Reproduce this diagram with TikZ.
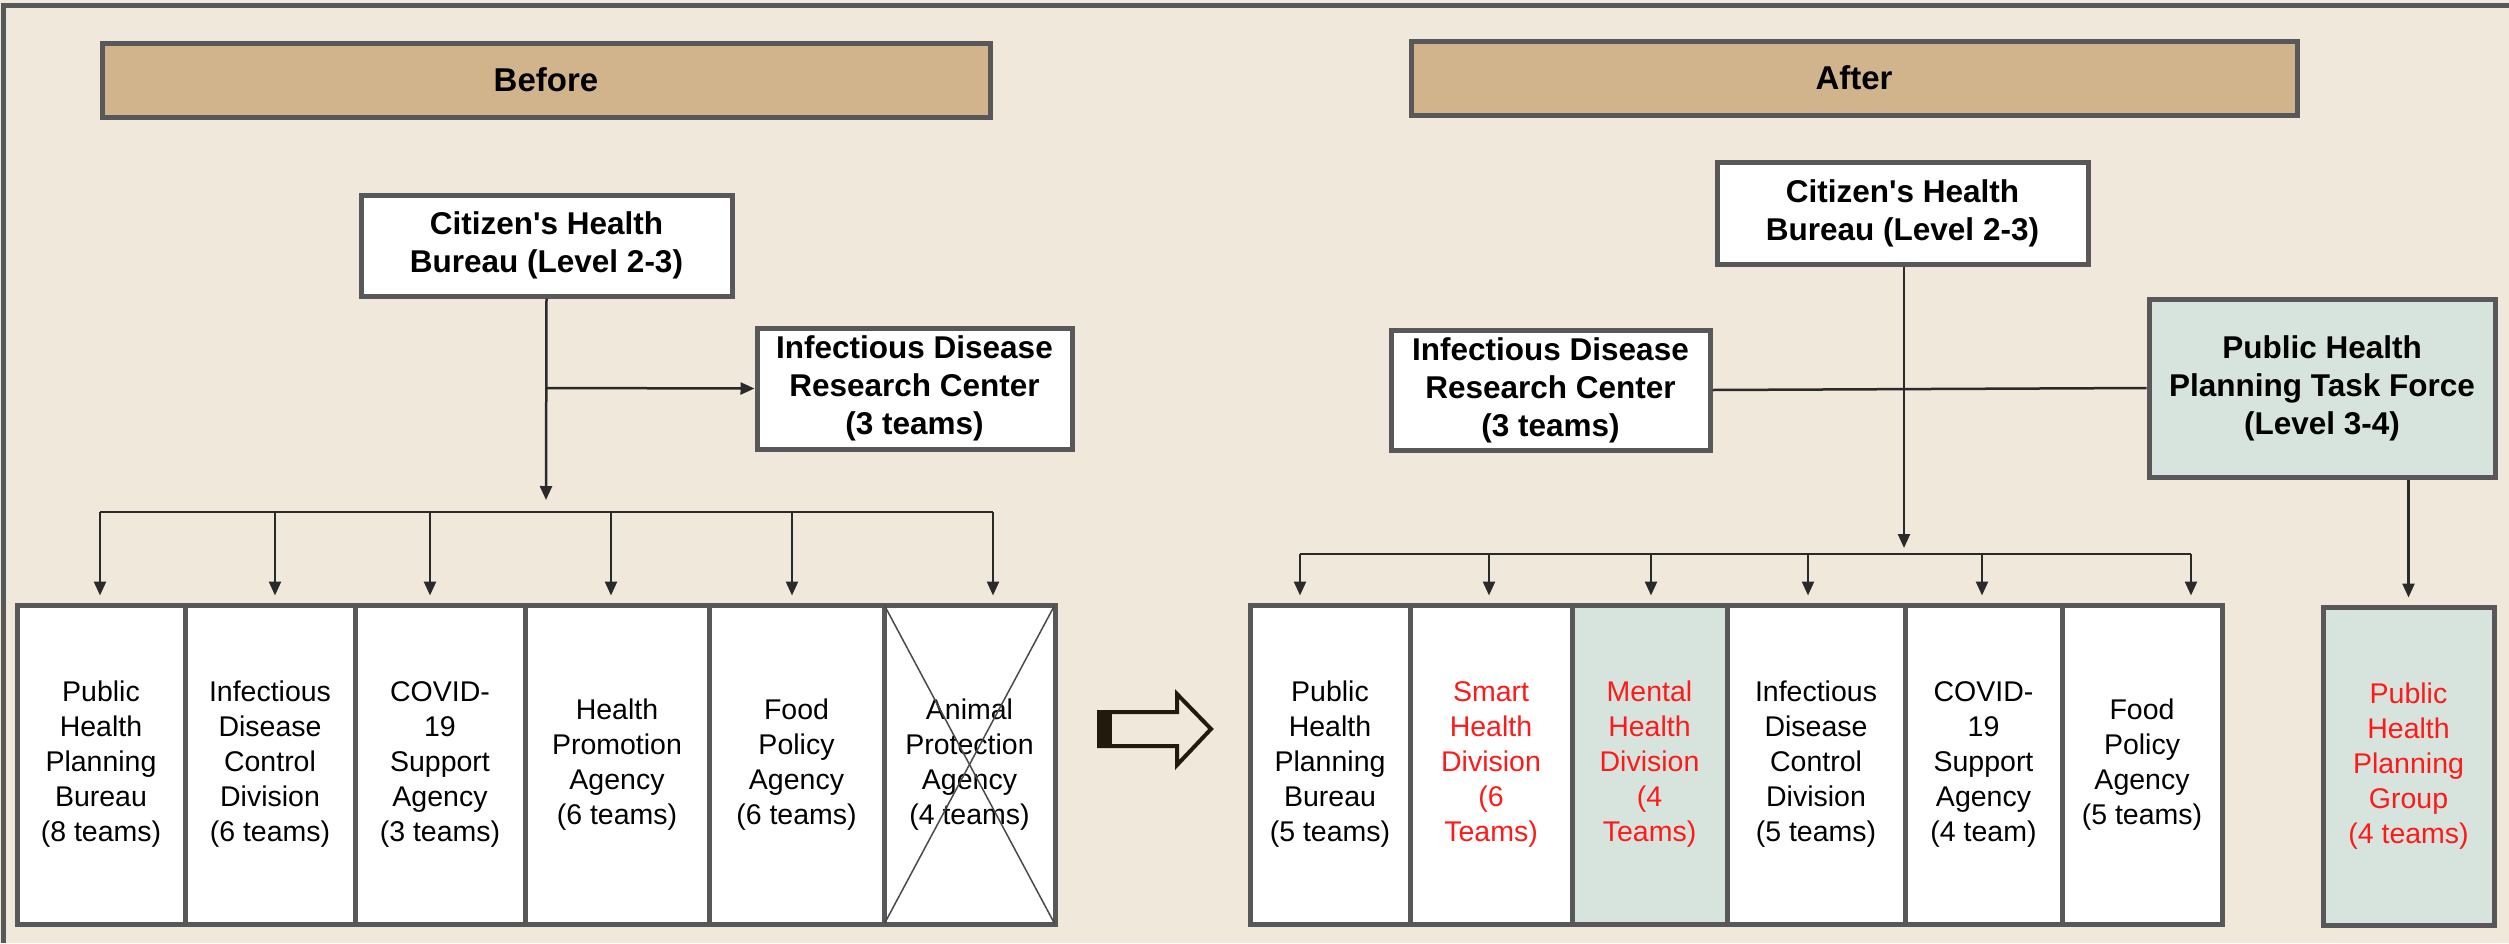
\documentclass[tikz,border=0pt]{standalone}
\usepackage{fontspec}
\setmainfont{Liberation Sans}[Ligatures=TeXOff]
\usetikzlibrary{arrows.meta}
\definecolor{bg}{HTML}{F1E8DC}
\definecolor{tanh}{HTML}{D2B48C}
\definecolor{bord}{HTML}{58585A}
\definecolor{mint}{HTML}{D6E4DD}
\definecolor{redt}{HTML}{FF1A1A}
\definecolor{conn}{HTML}{2A2A2A}
\definecolor{hollow}{HTML}{231A0E}
\begin{document}
\begin{tikzpicture}[x=1pt,y=-1pt,
  box/.style={draw=bord, line width=5pt, fill=white, inner sep=0pt, align=center},
  hdr/.style={box, fill=tanh, font=\fontsize{33}{40}\selectfont\bfseries},
  boldbox/.style={box, font=\fontsize{31.5}{38}\selectfont\bfseries},
  unit/.style={box, font=\fontsize{28.5}{35}\selectfont, minimum height=319pt},
  redtxt/.style={text=redt},
  greenbox/.style={fill=mint},
  line/.style={draw=conn, line width=2.5pt},
  arr/.style={line, -{Triangle[length=14pt,width=12pt]}},
  drop/.style={arr, shorten >=7pt}
]
\useasboundingbox (0,0) rectangle (2509,943);
\fill[bg] (0,0) rectangle (2509,943);
\draw[bord, line width=5pt] (3.5,943) -- (3.5,5.5) -- (2509,5.5);

% headers
\node[hdr, minimum width=888pt, minimum height=74pt] (before) at (546,80) {Before};
\node[hdr, minimum width=886pt, minimum height=74pt] (after) at (1854,78) {After};

% before top nodes
\node[boldbox, minimum width=371pt, minimum height=101pt] (cb) at (546.5,245.5) {Citizen's Health\\Bureau (Level 2-3)};
\node[boldbox, minimum width=315pt, minimum height=121pt] (ib) at (914.5,388.5) {Infectious Disease\\Research Center\\(3 teams)};

% after top nodes
\node[boldbox, minimum width=371pt, minimum height=102pt] (ca) at (1902.5,213) {Citizen's Health\\Bureau (Level 2-3)};
\node[boldbox, minimum width=319pt, minimum height=120pt] (ia) at (1550.5,390) {Infectious Disease\\Research Center\\(3 teams)};
\node[boldbox, greenbox, minimum width=346pt, minimum height=178pt] (pt) at (2322,388) {Public Health\\Planning Task Force\\(Level 3-4)};

% before units
\node[unit, minimum width=168pt] (b1) at (101,764.5) {Public\\Health\\Planning\\Bureau\\(8 teams)};
\node[unit, minimum width=170pt] (b2) at (270,764.5) {Infectious\\Disease\\Control\\Division\\(6 teams)};
\node[unit, minimum width=170pt] (b3) at (440,764.5) {COVID-\\19\\Support\\Agency\\(3 teams)};
\node[unit, minimum width=184pt] (b4) at (617,764.5) {Health\\Promotion\\Agency\\(6 teams)};
\node[unit, minimum width=175pt] (b5) at (796.5,764.5) {Food\\Policy\\Agency\\(6 teams)};
\node[unit, minimum width=171pt] (b6) at (969.5,764.5) {Animal\\Protection\\Agency\\(4 teams)};
\draw[conn!85, line width=1.5pt] ([shift={(3,3)}]b6.north west) -- ([shift={(-3,-3)}]b6.south east);
\draw[conn!85, line width=1.5pt] ([shift={(-3,3)}]b6.north east) -- ([shift={(3,-3)}]b6.south west);

% after units
\node[unit, minimum width=160pt] (a1) at (1330,764.5) {Public\\Health\\Planning\\Bureau\\(5 teams)};
\node[unit, redtxt, minimum width=162pt] (a2) at (1491,764.5) {Smart\\Health\\Division\\(6\\Teams)};
\node[unit, redtxt, greenbox, minimum width=155pt] (a3) at (1649.5,764.5) {Mental\\Health\\Division\\(4\\Teams)};
\node[unit, minimum width=178pt] (a4) at (1816,764.5) {Infectious\\Disease\\Control\\Division\\(5 teams)};
\node[unit, minimum width=157pt] (a5) at (1983.5,764.5) {COVID-\\19\\Support\\Agency\\(4 team)};
\node[unit, minimum width=160pt] (a6) at (2142,764.5) {Food\\Policy\\Agency\\(5 teams)};
\node[unit, redtxt, greenbox, minimum width=171pt, minimum height=318pt] (pg) at (2408.5,766) {Public\\Health\\Planning\\Group\\(4 teams)};

% hollow arrow
\draw[hollow, line width=4pt, line join=miter] (1099,712) -- (1177,712) -- (1177,694) -- (1211,729) -- (1177,765) -- (1177,746) -- (1099,746) -- cycle;
\fill[hollow] (1097,710) rectangle (1112,748);

% before connectors
\coordinate (t1) at (546,500);
\coordinate (j1) at (546,388);
\draw[arr] (cb.south) -- (t1);
\draw[arr] (j1) -- (ib.west);
\coordinate (bl) at (100,512);
\coordinate (br) at (993,512);
\draw[line] (bl) -- (br);
\foreach \x/\n in {100/b1,275/b2,430/b3,611/b4,792/b5,993/b6}{
  \coordinate (d\n) at (\x,512);
  \draw[drop] (d\n) -- (d\n |- \n.north);
}

% after connectors
\coordinate (t2) at (1904,548);
\draw[arr] (ca.south -| t2) -- (t2);
\draw[line] (ia.east) -- (pt.west);
\coordinate (al) at (1300,554);
\coordinate (ar) at (2191,554);
\draw[line] (al) -- (ar);
\foreach \x/\n in {1300/a1,1489/a2,1651/a3,1808/a4,1982/a5,2191/a6}{
  \coordinate (e\n) at (\x,554);
  \draw[drop] (e\n) -- (e\n |- \n.north);
}
\draw[drop] (pt.south -| pg.north) -- (pg.north);
\end{tikzpicture}
\end{document}
